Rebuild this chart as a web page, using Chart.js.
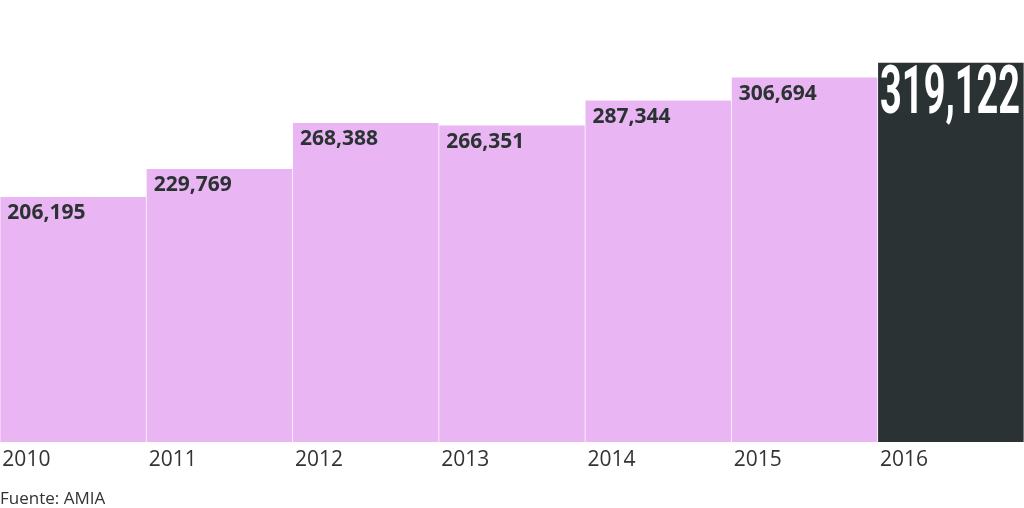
<!DOCTYPE html>
<html><head><meta charset="utf-8">
<script src="https://cdn.jsdelivr.net/npm/chart.js@4/dist/chart.umd.min.js"></script>
<style>html,body{margin:0;padding:0;background:#fff;}#wrap{width:1024px;height:508px;}</style>
</head><body><div id="wrap"><canvas id="c" width="1024" height="508"></canvas></div>
<script>
const years = ["2010","2011","2012","2013","2014","2015","2016"];
const values = [206195, 229769, 268388, 266351, 287344, 306694, 319122];
const valueLabels = ["206,195","229,769","268,388","266,351","287,344","306,694","319,122"];
const source = "Fuente: AMIA";
const PINK = "#e9b5f3", DARK = "#2b3233";

const labelPlugin = {
  id: 'labels',
  afterDatasetsDraw(chart) {
    const ctx = chart.ctx;
    const meta = chart.getDatasetMeta(0);
    const bottom = chart.chartArea.bottom;
    ctx.save();
    meta.data.forEach((bar, i) => {
      const left = bar.x - bar.width / 2;
      const top = bar.y;
      if (i === values.length - 1) {
        ctx.save();
        ctx.font = "bold 67px Roboto";
        ctx.fillStyle = "#ffffff";
        ctx.textBaseline = "alphabetic";
        const w = ctx.measureText(valueLabels[i]).width;
        const target = 140;
        ctx.translate(left + 2, top + 50);
        ctx.scale(target / w, 1);
        ctx.fillText(valueLabels[i], 0, 0);
        ctx.restore();
      } else {
        ctx.font = "bold 21px 'Open Sans'";
        ctx.fillStyle = DARK;
        ctx.textBaseline = "alphabetic";
        ctx.textAlign = "left";
        ctx.fillText(valueLabels[i], left + 7, top + 22);
      }
      ctx.font = "21px 'Open Sans'";
      ctx.fillStyle = "#333333";
      ctx.textAlign = "left";
      ctx.fillText(years[i], left + 2, bottom + 24);
    });
    ctx.font = "17px 'Open Sans'";
    ctx.fillStyle = "#333333";
    ctx.fillText(source, 0, bottom + 62);
    ctx.restore();
  }
};

new Chart(document.getElementById('c'), {
  type: 'bar',
  data: {
    labels: years,
    datasets: [{
      data: values,
      backgroundColor: values.map((v, i) => i === values.length - 1 ? DARK : PINK),
      borderWidth: 0,
      barPercentage: 0.995,
      categoryPercentage: 1
    }]
  },
  options: {
    responsive: false,
    animation: false,
    layout: { padding: { left: 0, right: 0, top: 0, bottom: 66 } },
    plugins: { legend: { display: false }, tooltip: { enabled: false } },
    scales: {
      x: { display: false, offset: true },
      y: { display: false, min: 0, max: 372000 }
    }
  },
  plugins: [labelPlugin]
});
</script></body></html>
